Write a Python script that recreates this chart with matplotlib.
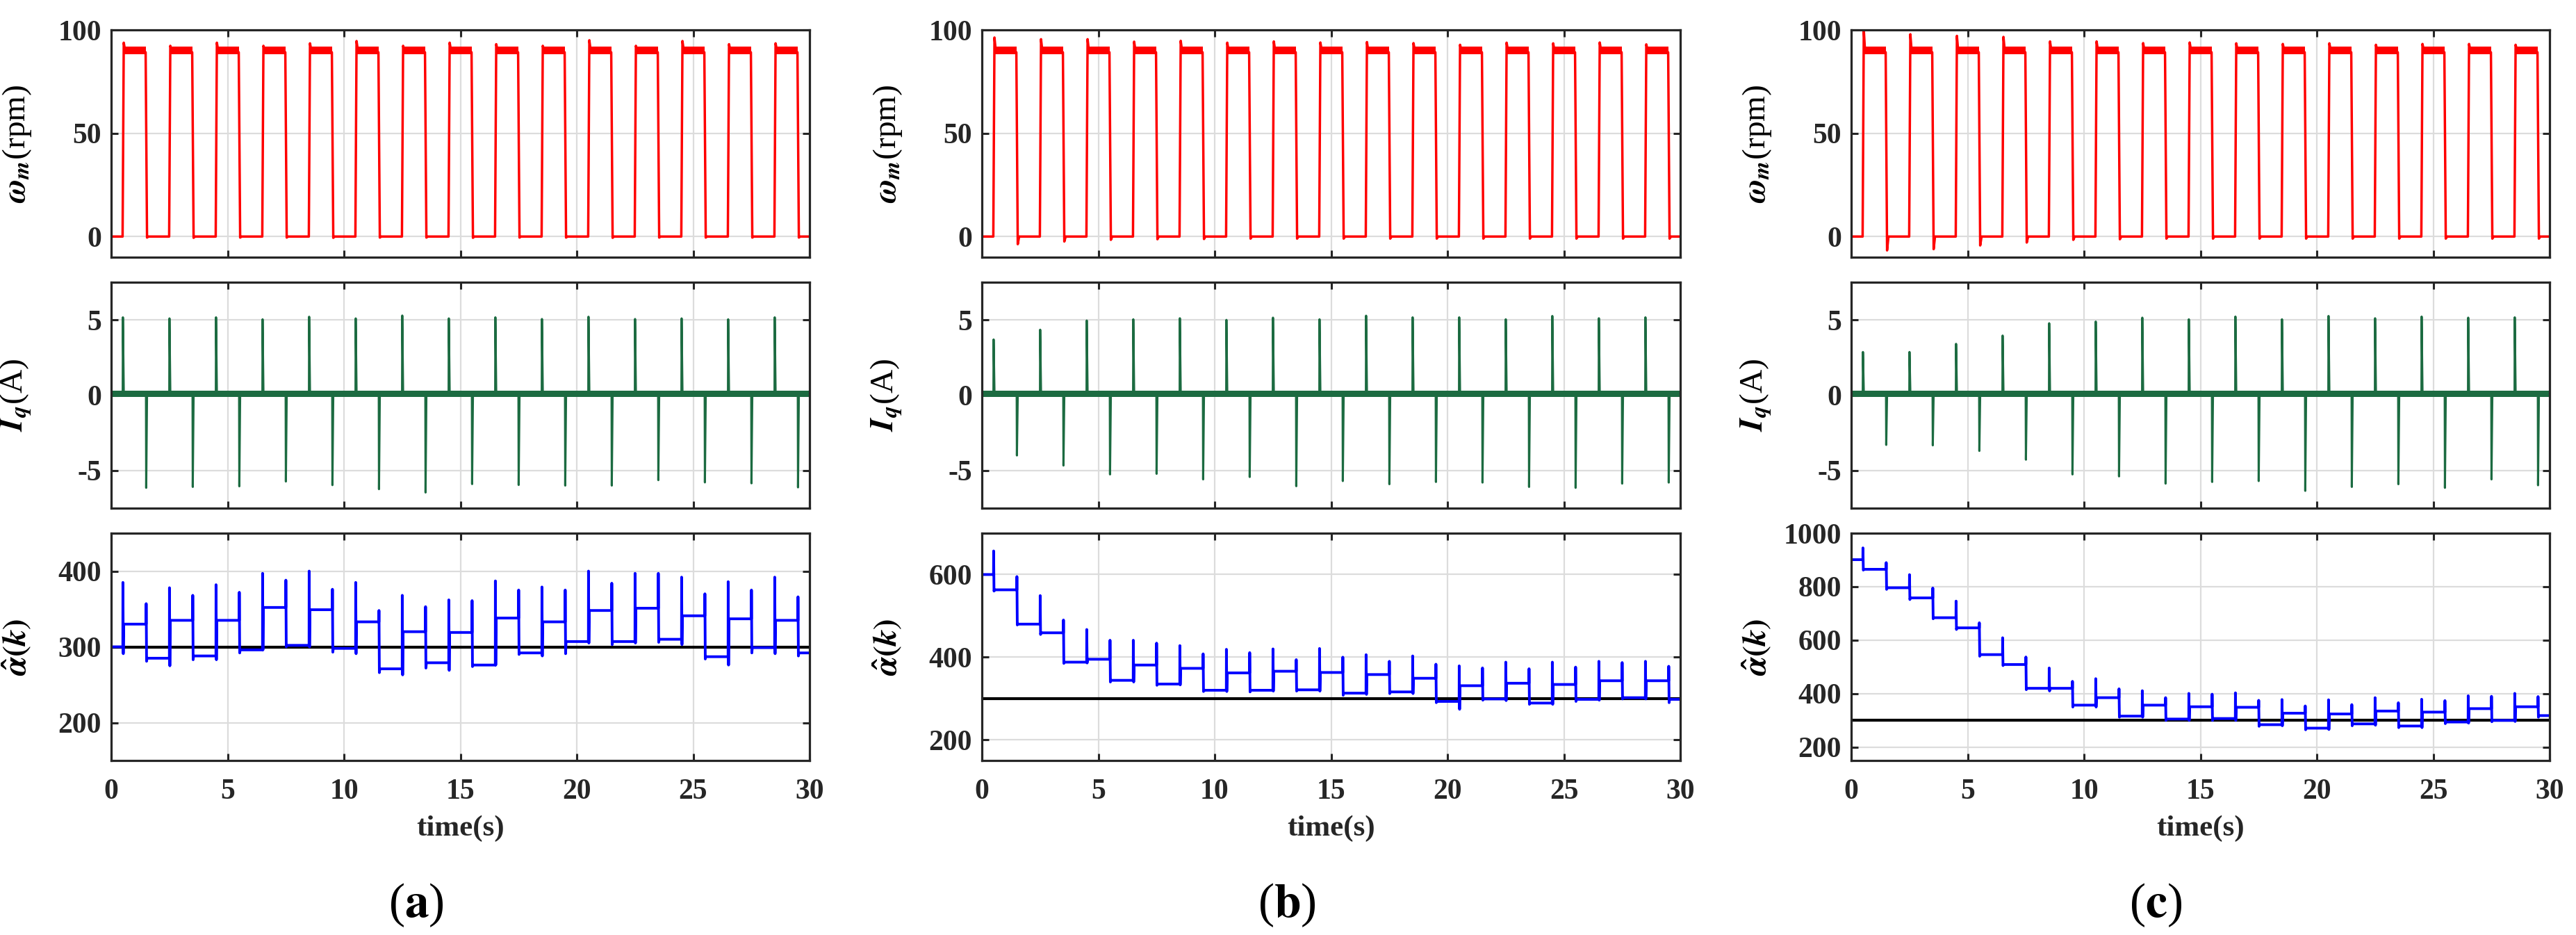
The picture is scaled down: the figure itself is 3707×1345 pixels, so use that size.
import numpy as np
import matplotlib
matplotlib.use('Agg')
import matplotlib.pyplot as plt

plt.rcParams['font.family'] = ['Liberation Serif', 'DejaVu Serif']
plt.rcParams['font.weight'] = 'bold'
plt.rcParams['mathtext.fontset'] = 'stix'
plt.rcParams['axes.unicode_minus'] = False

# ---- data ----
# speed square wave: rise at 0.5+2k s, fall at 1.5+2k s
rise_t = [0.5 + 2 * k for k in range(15)]
fall_t = [1.5 + 2 * k for k in range(15)]
omega_level = 90.0

a_w_peak = [93.8, 92.3, 93.8, 92.3, 93.5, 94.6, 92.3, 93.8, 93.1, 92.3, 95.0, 92.3, 94.6, 93.1, 93.5]
a_w_under = [-0.5, -0.6, -0.5, -0.5, -0.6, -0.5, -0.5, -0.6, -0.5, -0.5, -0.6, -0.5, -0.5, -0.5, -0.5]
b_w_peak = [96.3, 95.5, 95.5, 94.3, 94.7, 93.8, 94.4, 93.9, 94.1, 93.6, 92.8, 93.8, 93.5, 93.9, 93.0]
b_w_under = [-3.7, -2.4, -1.6, -1.3, -1.2, -1.0, -1.0, -1.0, -1.0, -1.0, -1.0, -1.0, -1.0, -1.0, -1.0]
c_w_peak = [100.0, 97.9, 97.1, 96.6, 94.4, 94.4, 93.6, 93.9, 93.5, 93.2, 93.5, 92.8, 93.2, 93.2, 92.8]
c_w_under = [-6.7, -6.1, -4.3, -2.9, -1.6, -1.3, -1.0, -1.0, -1.0, -1.0, -1.0, -1.0, -1.0, -1.0, -1.0]

# q-axis current spikes at every rise (positive) and fall (negative)
a_i_pos = [5.17, 5.10, 5.17, 5.04, 5.21, 5.10, 5.29, 5.10, 5.17, 5.06, 5.21, 5.06, 5.10, 5.04, 5.17]
a_i_neg = [-6.15, -6.09, -6.05, -5.73, -5.97, -6.24, -6.46, -5.90, -5.96, -6.00, -6.00, -5.64, -5.79, -5.85, -6.12]
b_i_pos = [3.70, 4.35, 4.96, 5.04, 5.11, 5.00, 5.15, 5.04, 5.28, 5.17, 5.17, 5.04, 5.26, 5.11, 5.17]
b_i_neg = [-4.00, -4.67, -5.26, -5.22, -5.59, -5.43, -6.04, -5.70, -5.91, -5.76, -5.80, -6.09, -6.15, -5.87, -5.80]
c_i_pos = [2.87, 2.87, 3.41, 3.96, 4.78, 4.89, 5.15, 5.04, 5.22, 5.04, 5.26, 5.11, 5.22, 5.15, 5.17]
c_i_neg = [-3.30, -3.33, -3.70, -4.28, -5.26, -5.39, -5.87, -5.76, -5.70, -6.35, -6.09, -5.91, -6.15, -5.59, -5.98]

# alpha estimate: value held between updates at 0.5+i s
alpha_t = [0.5 + i for i in range(30)]
alpha_ref = 300
a_alpha = [300, 330, 285, 335, 288, 335, 296, 352, 302, 349, 298, 333, 271, 320, 279, 319,
           276, 338, 292, 333, 307, 348, 307, 351, 310, 341, 287, 337, 299, 335, 292]
a_peak = [385, 357, 378, 368, 382, 372, 397, 388, 400, 376, 385, 348, 368, 353, 362,
          361, 387, 375, 379, 375, 400, 384, 397, 397, 392, 370, 386, 375, 392, 366]
a_dip = [291, 281, 275, 283, 283, 292, 296, 300, 300, 293, 291, 266, 263, 272, 269,
         274, 276, 290, 288, 291, 305, 303, 305, 306, 303, 284, 276, 292, 291, 288]
b_alpha = [600, 563, 480, 459, 388, 395, 344, 381, 335, 373, 320, 362, 320, 366, 321, 363,
           313, 358, 316, 349, 293, 331, 299, 337, 289, 334, 298, 343, 302, 343, 298]
b_peak = [657, 595, 549, 490, 467, 441, 441, 434, 428, 408, 419, 411, 420, 394, 421,
          400, 406, 390, 403, 383, 379, 374, 388, 372, 388, 376, 390, 387, 390, 378]
b_dip = [560, 478, 455, 385, 386, 340, 340, 332, 333, 317, 317, 316, 318, 318, 318,
         308, 310, 312, 312, 290, 274, 296, 295, 286, 286, 293, 296, 299, 299, 290]
c_alpha = [901, 865, 796, 758, 684, 646, 546, 509, 420, 420, 357, 385, 316, 357, 305, 351,
           307, 349, 284, 327, 271, 324, 287, 335, 279, 331, 294, 344, 300, 351, 318]
c_peak = [945, 890, 845, 795, 746, 665, 609, 537, 496, 446, 456, 418, 411, 385, 401,
          398, 403, 375, 378, 354, 377, 359, 385, 366, 379, 374, 392, 390, 401, 389]
c_dip = [862, 790, 752, 680, 640, 540, 505, 415, 410, 350, 350, 312, 312, 300, 300,
         300, 300, 278, 280, 265, 266, 280, 282, 273, 273, 288, 290, 295, 296, 312]

alpha_ylim = [(150, 450), (150, 700), (150, 1000)]
alpha_ticks = [[200, 300, 400], [200, 400, 600], [200, 400, 600, 800, 1000]]
panel_names = ['a', 'b', 'c']

# ---- layout (pixel based, figure is 3707 x 1345 at dpi 100) ----
W, H = 3707, 1345
fig = plt.figure(figsize=(W / 100, H / 100), dpi=100)
lefts = [160, 1413, 2664]
pw = 1005
rows = [(43, 370), (406, 731), (767, 1094)]

grid_c = '#dcdcdc'
spine_c = '#262626'


def style_axes(ax, show_x):
    ax.set_xlim(0, 30)
    ax.set_xticks([0, 5, 10, 15, 20, 25, 30])
    ax.grid(True, color=grid_c, lw=1.6)
    ax.set_axisbelow(True)
    for s in ax.spines.values():
        s.set_color(spine_c)
        s.set_linewidth(2.3)
    ax.tick_params(direction='in', length=7, width=2.2, colors=spine_c,
                   top=True, right=True, labelsize=30, pad=10)
    ax.tick_params(axis='x', pad=19)
    if not show_x:
        ax.tick_params(axis='x', labelbottom=False)
    for lab in ax.get_xticklabels() + ax.get_yticklabels():
        lab.set_fontweight('bold')
        lab.set_color('#262626')


def omega_trace(peaks, unders):
    t, w = [0.0], [0.0]
    for r, f, p, u in zip(rise_t, fall_t, peaks, unders):
        t += [r - 0.01, r + 0.04, r + 0.09, f - 0.02, f + 0.04, f + 0.10]
        w += [0.0, p, omega_level + 0.5, omega_level - 0.8, u, 0.0]
    t.append(30.0)
    w.append(0.0)
    return t, w


def iq_trace(pos, neg):
    t, i = [0.0], [0.1]
    for r, f, p, n in zip(rise_t, fall_t, pos, neg):
        t += [r - 0.005, r + 0.004, r + 0.04, f - 0.005, f + 0.004, f + 0.04]
        i += [0.05, p, 0.2, 0.2, n, 0.05]
    t.append(30.0)
    i.append(0.05)
    return t, i


def alpha_trace(vals, peaks, dips):
    t, a = [0.0], [vals[0]]
    for k, tau in enumerate(alpha_t):
        t += [tau, tau + 0.004, tau + 0.02, tau + 0.04]
        a += [vals[k], peaks[k], dips[k], vals[k + 1]]
    t.append(30.0)
    a.append(vals[-1])
    return t, a


omega_data = [(a_w_peak, a_w_under), (b_w_peak, b_w_under), (c_w_peak, c_w_under)]
iq_data = [(a_i_pos, a_i_neg), (b_i_pos, b_i_neg), (c_i_pos, c_i_neg)]
alpha_data = [(a_alpha, a_peak, a_dip), (b_alpha, b_peak, b_dip), (c_alpha, c_peak, c_dip)]

for p in range(3):
    L = lefts[p]
    axs = []
    for (top, bot) in rows:
        axs.append(fig.add_axes([L / W, 1 - bot / H, pw / W, (bot - top) / H]))
    ax1, ax2, ax3 = axs

    # speed
    tw, ww = omega_trace(*omega_data[p])
    for r, f in zip(rise_t, fall_t):
        ax1.fill_between([r + 0.08, f - 0.02], 88.3, 92.0, color='#ff0000', lw=0)
    ax1.plot(tw, ww, color='#ff0000', lw=2.5)
    ax1.set_ylim(-10, 100)
    ax1.set_yticks([0, 50, 100])
    style_axes(ax1, False)
    ax1.set_ylabel(r'$\omega_m$(rpm)', fontsize=34, fontweight='normal')

    # current
    ti, ii = iq_trace(*iq_data[p])
    ax2.fill_between([0, 30], -0.12, 0.28, color='#1c6b41', lw=0)
    ax2.plot(ti, ii, color='#1c6b41', lw=2.2)
    ax2.set_ylim(-7.5, 7.5)
    ax2.set_yticks([-5, 0, 5])
    style_axes(ax2, False)
    ax2.set_ylabel(r'$\mathbfit{I}_q$(A)', fontsize=34, fontweight='normal')

    # alpha estimate
    ta, aa = alpha_trace(*alpha_data[p])
    ax3.plot([0, 30], [alpha_ref, alpha_ref], color='black', lw=3.0)
    ax3.plot(ta, aa, color='#0000ff', lw=2.8)
    ax3.set_ylim(*alpha_ylim[p])
    ax3.set_yticks(alpha_ticks[p])
    style_axes(ax3, True)
    ax3.set_ylabel(r'$\hat{\alpha}(\mathbfit{k})$', fontsize=34, fontweight='normal')
    ax3.set_xlabel('time(s)', fontsize=31, fontweight='bold', color='#262626')

    for ax in axs:
        ax.yaxis.set_label_coords(-112 / pw, 0.5)
    ax3.xaxis.set_label_coords(0.5, (1094 - 1192) / 327)
    ax3.xaxis.label.set_va('center')

    fig.text((L + pw / 2 - 64) / W, 1 - 1302 / H,
             '(' + r'$\mathbf{' + panel_names[p] + '}$' + ')',
             fontsize=50, fontweight='normal', ha='center', va='center', color='black')

fig.savefig('out.png', dpi=100)
